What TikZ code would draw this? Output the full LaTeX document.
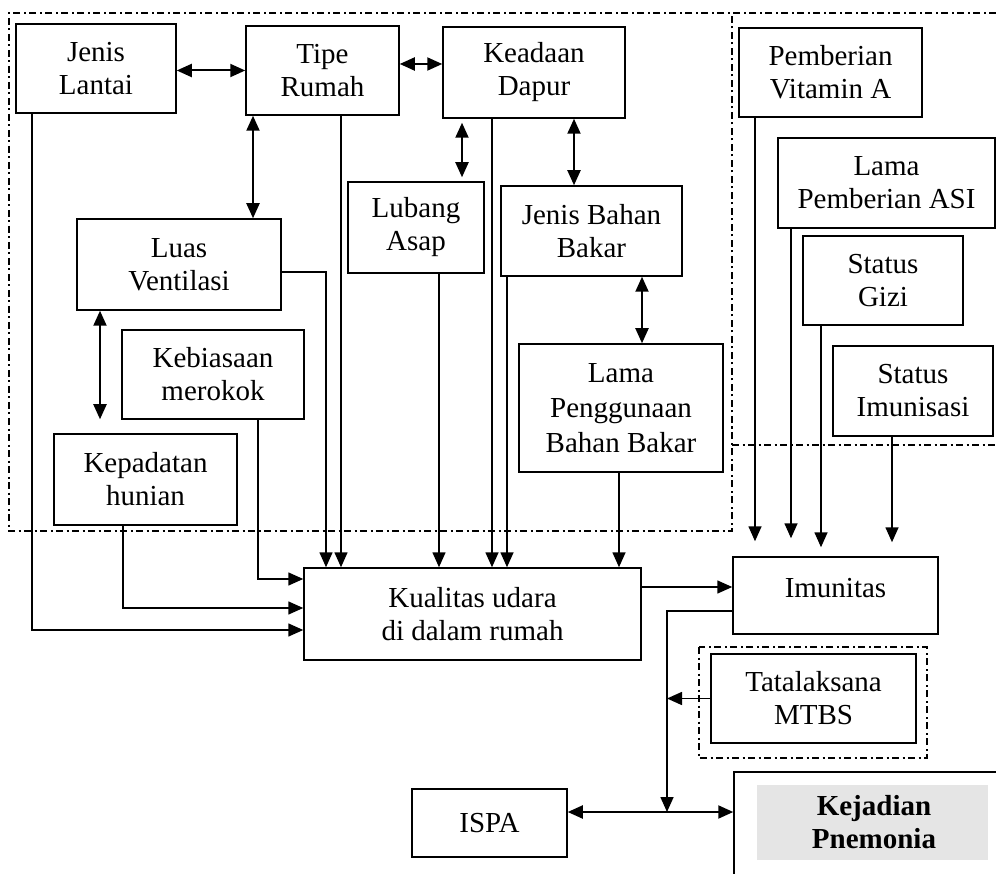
\documentclass[tikz,border=0pt]{standalone}
\usepackage{fontspec}
\setmainfont{Liberation Serif}
\usetikzlibrary{arrows.meta}
\begin{document}
\begin{tikzpicture}[x=1pt,y=-1pt,
  box/.style={draw, line width=1.5pt, align=center, inner sep=2pt, font=\fontsize{29}{33}\selectfont},
  arr/.style={-{Triangle[length=15pt,width=13pt]}, line width=1.6pt},
  dbl/.style={{Triangle[length=15pt,width=13pt]}-{Triangle[length=15pt,width=13pt]}, line width=2pt},
  dashdot/.style={line width=1.2pt, dash pattern=on 7pt off 3.5pt on 2pt off 3.5pt}]
\useasboundingbox (0,0) rectangle (996,874);

% group frames
\draw[dashdot] (996,13) -- (9,13) -- (9,531) -- (732,531) -- (732,13);
\draw[dashdot] (732,445) -- (996,445);
\draw[dashdot] (699,647) rectangle (927,758);

% stipple of the outcome box
\fill[black!10] (757,785) rectangle (988,860);

% nodes
\node[box,minimum width=160pt,minimum height=89pt] (lantai) at (96,68.5) {Jenis\\Lantai};
\node[box,minimum width=153pt,minimum height=89pt] (tipe) at (322.5,70.5) {Tipe\\Rumah};
\node[box,minimum width=182pt,minimum height=91pt] (dapur) at (534,72.5) {Keadaan\\Dapur};
\node[box,minimum width=183pt,minimum height=89pt] (vita) at (830.5,72.5) {Pemberian\\Vitamin A};
\node[box,minimum width=217pt,minimum height=90pt] (asi) at (886.5,183) {Lama\\Pemberian ASI};
\node[box,minimum width=160pt,minimum height=89pt] (gizi) at (883,280.5) {Status\\Gizi};
\node[box,minimum width=160pt,minimum height=90pt] (imun) at (913,391) {Status\\Imunisasi};
\node[box,minimum width=204pt,minimum height=91pt] (luas) at (179,264.5) {Luas\\Ventilasi};
\node[box,minimum width=136pt,minimum height=91pt] (asap) at (416,227.5) {Lubang\\Asap};
\node[box,minimum width=181pt,minimum height=90pt] (jbb) at (591.5,231) {Jenis Bahan\\Bakar};
\node[box,minimum width=182pt,minimum height=89pt] (rokok) at (213,374.5) {Kebiasaan\\merokok};
\node[box,minimum width=183pt,minimum height=91pt] (padat) at (145.5,479.5) {Kepadatan\\hunian};
\node[box,minimum width=204pt,minimum height=128pt,font=\fontsize{29}{35}\selectfont] (lama) at (621,408) {Lama\\Penggunaan\\Bahan Bakar};
\node[box,minimum width=337pt,minimum height=92pt] (kual) at (472.5,614) {Kualitas udara\\di dalam rumah};
\node[box,minimum width=205pt,minimum height=77pt] (imunitas) at (835.5,595.5) {Imunitas\rule[-16pt]{0pt}{16pt}};
\node[box,minimum width=205pt,minimum height=89pt] (tata) at (813.5,698.5) {Tatalaksana\\MTBS};
\node[box,minimum width=155pt,minimum height=68pt] (ispa) at (489.5,823) {ISPA};
\node[box,minimum width=280pt,minimum height=120pt,font=\fontsize{29}{33}\selectfont\bfseries] (kej) at (874,832) {Kejadian\\Pnemonia\rule[-20pt]{0pt}{20pt}};

% column helpers
\coordinate (c32) at (32,0);
\coordinate (c100) at (100,0);
\coordinate (c123) at (123,0);
\coordinate (c253) at (253,0);
\coordinate (c258) at (258,0);
\coordinate (c326) at (326,0);
\coordinate (c341) at (341,0);
\coordinate (c439) at (439,0);
\coordinate (c462) at (462,0);
\coordinate (c492) at (492,0);
\coordinate (c507) at (507,0);
\coordinate (c574) at (574,0);
\coordinate (c619) at (619,0);
\coordinate (c642) at (642,0);
\coordinate (c755) at (755,0);
\coordinate (c791) at (791,0);
\coordinate (c821) at (821,0);
\coordinate (c892) at (892,0);
\coordinate (j) at (667,812);

% two-way links
\draw[dbl] ([yshift=-2pt]lantai.east) -- ([yshift=-2pt]lantai.east -| tipe.west);
\draw[dbl] ([yshift=6.5pt]tipe.east) -- ([yshift=6.5pt]tipe.east -| dapur.west);
\draw[dbl] (tipe.south -| c253) -- (luas.north -| c253);
\draw[dbl, shorten <=4pt, shorten >=4pt] (dapur.south -| c462) -- (asap.north -| c462);
\draw[dbl] (dapur.south -| c574) -- (jbb.north -| c574);
\draw[dbl] (jbb.south -| c642) -- (lama.north -| c642);
\draw[dbl, shorten >=14pt] (luas.south -| c100) -- (padat.north -| c100);

% into indoor air quality
\draw[arr] (lantai.south -| c32) |- ([yshift=-16pt]kual.west);
\draw[arr] (padat.south -| c123) |- ([yshift=6pt]kual.west);
\draw[arr] (rokok.south -| c258) |- ([yshift=35pt]kual.west);
\draw[arr] ([yshift=-7.5pt]luas.east) -| (kual.north -| c326);
\draw[arr] (tipe.south -| c341) -- (kual.north -| c341);
\draw[arr] (asap.south -| c439) -- (kual.north -| c439);
\draw[arr] (dapur.south -| c492) -- (kual.north -| c492);
\draw[arr] (jbb.south -| c507) -- (kual.north -| c507);
\draw[arr] (lama.south -| c619) -- (kual.north -| c619);

% into immunity
\draw[arr] ([yshift=27pt]kual.east) -- ([yshift=27pt]kual.east -| imunitas.west);
\draw[arr, shorten >=15pt] (vita.south -| c755) -- (imunitas.north -| c755);
\draw[arr, shorten >=18pt] (asi.south -| c791) -- (imunitas.north -| c791);
\draw[arr, shorten >=9pt] (gizi.south -| c821) -- (imunitas.north -| c821);
\draw[arr, shorten >=14pt] (imun.south -| c892) -- (imunitas.north -| c892);

% outcome
\draw[arr] ([yshift=-15.5pt]imunitas.west) -| (j);
\draw[arr] (tata.west) -- (tata.west -| j);
\draw[dbl] (ispa.east |- j) -- (kej.west |- j);
\end{tikzpicture}
\end{document}
